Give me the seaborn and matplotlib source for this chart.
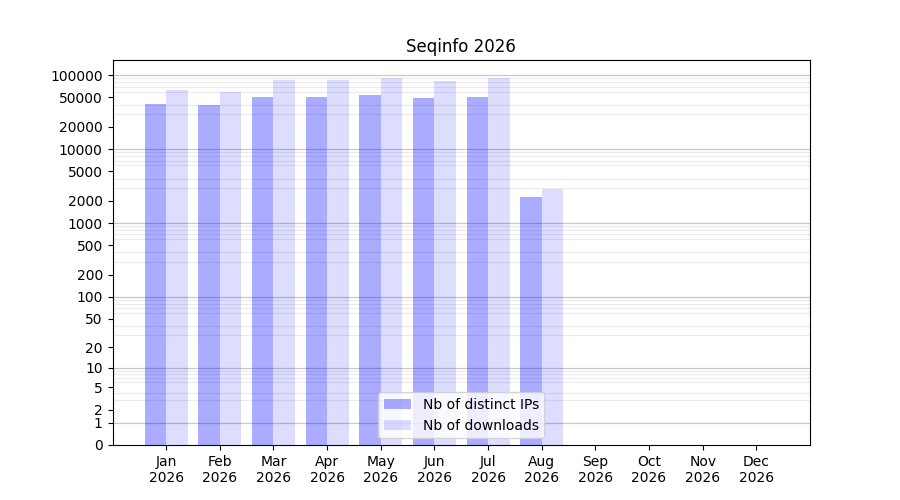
import numpy as np
import pandas as pd
import matplotlib
matplotlib.use("Agg")
import matplotlib.pyplot as plt
import seaborn as sns

months = ["Jan\n2026", "Feb\n2026", "Mar\n2026", "Apr\n2026", "May\n2026", "Jun\n2026",
          "Jul\n2026", "Aug\n2026", "Sep\n2026", "Oct\n2026", "Nov\n2026", "Dec\n2026"]
distinct_ips = [41300, 39300, 50400, 50400, 53700, 49500, 50400, 2240, 0, 0, 0, 0]
downloads = [62700, 58900, 85300, 85000, 91000, 83000, 91000, 2880, 0, 0, 0, 0]
series_names = ["Nb of distinct IPs", "Nb of downloads"]
ytick_values = [0, 1, 2, 5, 10, 20, 50, 100, 200, 500, 1000, 2000, 5000,
                10000, 20000, 50000, 100000]

df = pd.DataFrame({
    "month": months * 2,
    "value": distinct_ips + downloads,
    "series": [series_names[0]] * len(months) + [series_names[1]] * len(months),
})

fig, ax = plt.subplots(figsize=(9, 5), dpi=100)
sns.barplot(data=df, x="month", y="value", hue="series", order=months,
            hue_order=series_names, palette=["blue", "blue"], width=0.8,
            legend=False, ax=ax, saturation=1)
alphas = [0.33, 0.134]
for cont, a, name in zip(ax.containers, alphas, series_names):
    for p in cont.patches:
        p.set_alpha(a)
        p.set_edgecolor("none")
        p.set_linewidth(0)
    cont.set_label(name)

ax.set_yscale("function", functions=(lambda v: np.log10(1 + np.clip(v, -0.999999, None)),
                                     lambda v: 10 ** v - 1))
ax.set_ylim(0, 160000)
ax.set_xlim(-1, 12)
ax.set_yticks(ytick_values)
ax.set_yticklabels([str(v) for v in ytick_values])

# light grid at every 1..9 x 10^k, darker at decades
minor_vals = [m * 10 ** k for k in range(0, 6) for m in range(1, 10) if m * 10 ** k <= 160000]
ax.set_yticks(minor_vals, minor=True)
ax.tick_params(axis="y", which="minor", length=0)
ax.grid(True, which="minor", axis="y", color="#ebebeb", linewidth=0.8)
ax.grid(False, which="major")
for k in range(0, 6):
    ax.axhline(10 ** k, color="#c8c8c8", linewidth=0.9, zorder=0.5)
ax.set_axisbelow(True)

ax.set_xlabel("")
ax.set_ylabel("")
ax.set_title("Seqinfo 2026")
ax.legend(ax.containers, series_names, loc="lower center")
fig.savefig("out.png", dpi=100)
